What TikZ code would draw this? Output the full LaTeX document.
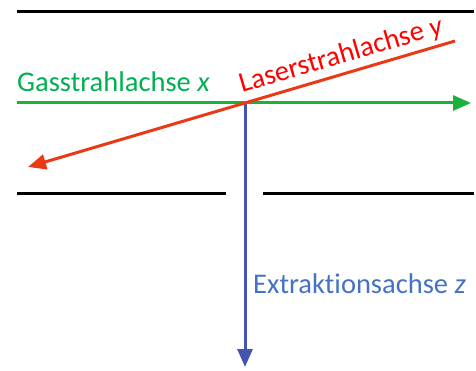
\documentclass[tikz,border=0pt]{standalone}
\usepackage{fontspec}
\setmainfont[Ligatures=NoCommon]{Carlito}
\usetikzlibrary{arrows.meta}
\definecolor{gline}{RGB}{27,178,60}
\definecolor{gtext}{RGB}{0,176,80}
\definecolor{rline}{RGB}{232,58,20}
\definecolor{rtext}{RGB}{255,0,0}
\definecolor{bline}{RGB}{68,84,176}
\definecolor{btext}{RGB}{68,114,196}
\tikzset{
  wall/.style={line width=3pt,black},
  axis/.style={line width=3pt,-{Triangle[length=18pt,width=15pt]}},
  lab/.style={inner sep=0pt,font=\fontsize{28.5}{32}\selectfont}
}
\begin{document}
\begin{tikzpicture}[x=1pt,y=-1pt]
\useasboundingbox (0,0) rectangle (476,371);
% walls
\coordinate (t1) at (17,12);
\coordinate (t2) at (474,12);
\coordinate (l1) at (17,194);
\coordinate (l2) at (226,194);
\coordinate (r1) at (263,194);
\coordinate (r2) at (474,194);
\draw[wall] (t1) -- (t2);
\draw[wall] (l1) -- (l2);
\draw[wall] (r1) -- (r2);
% axes
\coordinate (O) at (245,103);
\coordinate (gs) at (17,103);
\coordinate (ge) at (471,103);
\coordinate (rs) at (455,41);
\coordinate (re) at (28,167);
\coordinate (be) at (245,367);
\draw[axis,bline] (O) -- (be);
\draw[axis,gline] (gs) -- (ge);
\draw[axis,rline] (rs) -- (re);
% labels
\node[lab,text=gtext,anchor=base west] (gl) at (17,92) {Gasstrahlachse \textit{x}};
\node[lab,text=rtext,anchor=base west,rotate=16.4] (rl) at (242,93) {Laserstrahlachse \textit{y}};
\node[lab,text=btext,anchor=base west] (bl) at (253,293) {Extraktionsachse \textit{z}};
\end{tikzpicture}
\end{document}
